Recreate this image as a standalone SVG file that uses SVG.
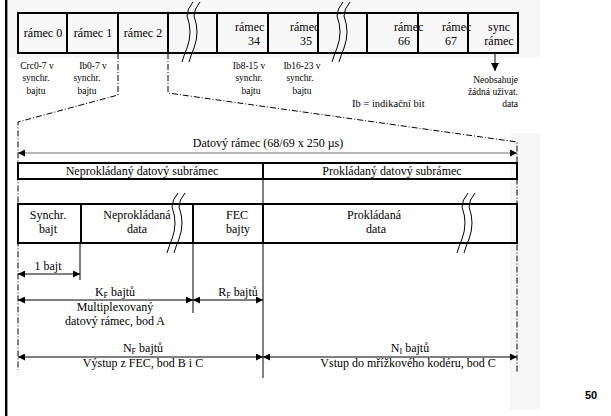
<svg xmlns="http://www.w3.org/2000/svg" xmlns:xlink="http://www.w3.org/1999/xlink" width="611" height="416" viewBox="0 0 611 416">
<style>
text{font-family:"Liberation Serif","Times New Roman",serif;fill:#000}
.t{font-size:12px}
.s{font-size:9.5px}
.m{text-anchor:middle}
.e{text-anchor:end}
.box{fill:none;stroke:#000;stroke-width:2}
.thin{stroke:#000;stroke-width:1;fill:none}
.dd{stroke:#000;stroke-width:1;fill:none;stroke-dasharray:6 2 1 2}
.arr{stroke:#000;stroke-width:1;fill:none;marker-start:url(#ah);marker-end:url(#ah)}
.brk{fill:none;stroke:#000;stroke-width:1}
.sub{font-size:8px}
</style>
<defs>
<marker id="ah" viewBox="0 0 10 10" refX="10" refY="5" markerWidth="9" markerHeight="7" orient="auto-start-reverse" markerUnits="userSpaceOnUse"><path d="M0,0 L10,5 L0,10 z" fill="#000"/></marker>
<marker id="ahd" viewBox="0 0 10 10" refX="10" refY="5" markerWidth="8" markerHeight="9" orient="auto" markerUnits="userSpaceOnUse"><path d="M0,0 L10,5 L0,10 z" fill="#000"/></marker>
<path id="brk" d="M6,0 Q0,7 0,14 Q6,30 0,46 Q-3,53 -5,60"/>
</defs>
<rect width="611" height="416" fill="#fff"/>
<rect x="8" y="0" width="532" height="58" fill="#f7f7f7"/>
<rect x="510" y="133" width="30" height="277" fill="#f7f7f7"/>
<rect x="5" y="0" width="2.4" height="416" fill="#000"/>

<g id="connectors">
<path class="dd" d="M118,53 V95 L18,122 V370"/>
<path class="dd" d="M168,53 V93 L517,142 V373"/>
<line x1="495" y1="53" x2="495" y2="71" class="thin" marker-end="url(#ahd)"/>
<line x1="18" y1="153" x2="517" y2="153" class="arr" style="stroke:#707070"/>
<line x1="80" y1="243" x2="80" y2="280" class="thin"/>
<line x1="193" y1="243" x2="193" y2="313" class="thin"/>
<line x1="263" y1="179" x2="263" y2="204" class="thin"/>
<line x1="263" y1="243" x2="263" y2="378" class="thin"/>
<line x1="18" y1="274" x2="80" y2="274" class="arr"/>
<line x1="18" y1="300" x2="193" y2="300" class="arr"/>
<line x1="193" y1="300" x2="263" y2="300" class="arr"/>
<line x1="18" y1="357" x2="263" y2="357" class="arr"/>
<line x1="263" y1="357" x2="517" y2="357" class="arr"/>
</g>

<g id="top-row">
<line x1="17" y1="13" x2="518" y2="13" class="box"/>
<line x1="17" y1="53" x2="518" y2="53" class="box"/>
<line x1="18" y1="12" x2="18" y2="54" class="box"/>
<line x1="67" y1="12" x2="67" y2="54" class="box"/>
<line x1="118" y1="12" x2="118" y2="54" class="box"/>
<line x1="168" y1="12" x2="168" y2="54" class="box"/>
<line x1="217" y1="12" x2="217" y2="54" class="box"/>
<line x1="268" y1="12" x2="268" y2="54" class="box"/>
<line x1="318" y1="12" x2="318" y2="54" class="box"/>
<line x1="367" y1="12" x2="367" y2="54" class="box"/>
<line x1="418" y1="12" x2="418" y2="54" class="box"/>
<line x1="468" y1="12" x2="468" y2="54" class="box"/>
<line x1="518" y1="12" x2="518" y2="54" class="box"/>
<use xlink:href="#brk" x="187" y="2" class="brk"/>
<use xlink:href="#brk" x="194" y="2" class="brk"/>
<use xlink:href="#brk" x="337" y="2" class="brk"/>
<use xlink:href="#brk" x="344" y="2" class="brk"/>
</g>
<g id="ramec0"><text class="t m" x="43" y="37">rámec 0</text></g>
<g id="ramec1"><text class="t m" x="93" y="37">rámec 1</text></g>
<g id="ramec2"><text class="t m" x="143" y="37">rámec 2</text></g>
<g id="ramec34"><text class="t" x="235" y="31">rámec</text><text class="t" x="248" y="45">34</text></g>
<g id="ramec35"><text class="t" x="290" y="31">rámec</text><text class="t" x="300" y="45">35</text></g>
<g id="ramec66"><text class="t" x="394" y="31">rámec</text><text class="t" x="398" y="45">66</text></g>
<g id="ramec67"><text class="t" x="442" y="31">rámec</text><text class="t" x="445" y="45">67</text></g>
<g id="sync"><text class="t m" x="499" y="31">sync</text><text class="t m" x="499" y="45">rámec</text></g>

<g id="labels">
<text class="s m" x="37" y="69">Crc0-7 v</text>
<text class="s m" x="36" y="81">synchr.</text>
<text class="s m" x="36" y="94">bajtu</text>
<text class="s m" x="93" y="69">Ib0-7 v</text>
<text class="s m" x="87" y="81">synchr.</text>
<text class="s m" x="87" y="94">bajtu</text>
<text class="s m" x="249" y="69">Ib8-15 v</text>
<text class="s m" x="249" y="81">synchr.</text>
<text class="s m" x="251" y="94">bajtu</text>
<text class="s m" x="302" y="69">Ib16-23 v</text>
<text class="s m" x="300" y="81">synchr.</text>
<text class="s m" x="302" y="94">bajtu</text>
<text x="352" y="107" style="font-size:10.5px">Ib = indikační bit</text>
<text class="s e" x="518" y="83">Neobsahuje</text>
<text class="s e" x="518" y="95">žádná uživat.</text>
<text class="s e" x="518" y="107">data</text>
</g>

<g id="datovy-ramec"><text class="t m" x="268" y="147">Datový rámec (68/69 x 250 µs)</text></g>

<g id="subramce">
<line x1="17" y1="163" x2="518" y2="163" class="box"/>
<line x1="17" y1="179" x2="518" y2="179" class="box"/>
<line x1="18" y1="162" x2="18" y2="180" class="box"/>
<line x1="263" y1="162" x2="263" y2="180" class="box"/>
<line x1="517" y1="162" x2="517" y2="180" class="box"/>
<text class="t m" x="142" y="175">Neprokládaný datový subrámec</text>
<text class="t m" x="392" y="175">Prokládaný datový subrámec</text>
</g>

<g id="bottom-row">
<line x1="17" y1="204" x2="518" y2="204" class="box"/>
<line x1="17" y1="243" x2="518" y2="243" class="box"/>
<line x1="18" y1="203" x2="18" y2="244" class="box"/>
<line x1="81" y1="203" x2="81" y2="244" class="box"/>
<line x1="193" y1="203" x2="193" y2="244" class="box"/>
<line x1="263" y1="203" x2="263" y2="244" class="box"/>
<line x1="517" y1="203" x2="517" y2="244" class="box"/>
<use xlink:href="#brk" x="172" y="193" class="brk"/>
<use xlink:href="#brk" x="179" y="193" class="brk"/>
<use xlink:href="#brk" x="462" y="193" class="brk"/>
<use xlink:href="#brk" x="469" y="193" class="brk"/>
</g>
<g id="synchr"><text class="t m" x="48" y="219">Synchr.</text><text class="t m" x="48" y="233">bajt</text></g>
<g id="neprokladana"><text class="t m" x="137" y="219">Neprokládaná</text><text class="t m" x="137" y="233">data</text></g>
<g id="fec"><text class="t m" x="237" y="219">FEC</text><text class="t m" x="238" y="233">bajty</text></g>
<g id="prokladana"><text class="t m" x="374" y="219">Prokládaná</text><text class="t m" x="376" y="233">data</text></g>

<g id="dims">
<text class="t m" x="48" y="270">1 bajt</text>
<text class="t m" x="115" y="296">K<tspan class="sub" dy="1.5">F</tspan><tspan dy="-1.5"> bajtů</tspan></text>
<text class="t m" x="115" y="311">Multiplexovaný</text>
<text class="t m" x="115" y="325">datový rámec, bod A</text>
<text class="t m" x="238" y="296">R<tspan class="sub" dy="1.5">F</tspan><tspan dy="-1.5"> bajtů</tspan></text>
<text class="t m" x="143" y="352">N<tspan class="sub" dy="1.5">F</tspan><tspan dy="-1.5"> bajtů</tspan></text>
<text class="t m" x="143" y="367">Výstup z FEC, bod B i C</text>
<text class="t m" x="410" y="352">N<tspan class="sub" dy="1.5">I</tspan><tspan dy="-1.5">  bajtů</tspan></text>
<text class="t m" x="408" y="367">Vstup do mřížkového kodéru, bod C</text>
</g>

<text x="591" y="399" style="font-family:'Liberation Sans',Arial,sans-serif;font-weight:bold;font-size:11px" text-anchor="middle">50</text>
</svg>
